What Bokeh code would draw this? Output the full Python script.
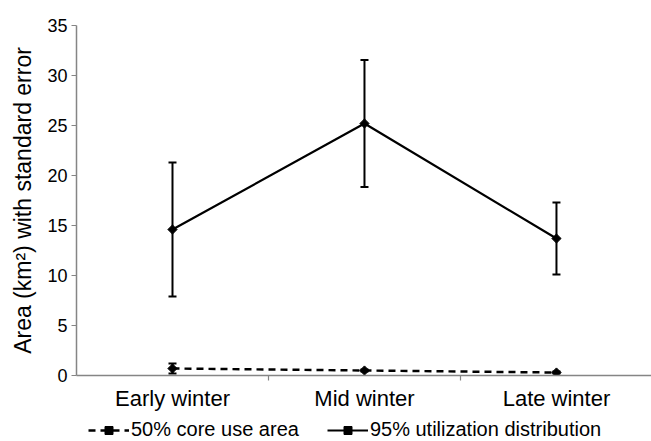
from bokeh.plotting import figure
from bokeh.models import (Range1d, FixedTicker, Whisker, ColumnDataSource, Legend,
                          LegendItem, TeeHead)
from bokeh.layouts import column
from bokeh.embed import file_html
from bokeh.resources import INLINE
import math

# ---- data ----
seasons = ["Early winter", "Mid winter", "Late winter"]
ud95_mean = [14.6, 25.2, 13.7]
ud95_se = [6.7, 6.35, 3.6]
core50_mean = [0.7, 0.5, 0.3]
core50_se = [0.5, 0.1, 0.1]
y_ticks = [0, 5, 10, 15, 20, 25, 30, 35]
legend_labels = ["50% core use area", "95% utilization distribution"]
y_label = "Area (km\u00b2) with standard error"

xpos = [i + 1 for i in range(len(seasons))]

FONT = "Liberation Sans"
AXIS_GREY = "#858585"

core_style = dict(line_color="black", line_width=2.5, line_dash="7 5")
ud_style = dict(line_color="black", line_width=2.2)
mark_style = dict(marker="square", size=6.5, angle=math.pi / 4,
                  fill_color="black", line_color="black")

p = figure(width=651, height=413, output_backend="svg", toolbar_location=None,
           x_range=Range1d(0.5, 3.495), y_range=Range1d(0, 35),
           min_border_left=76, min_border_right=0, min_border_top=25,
           min_border_bottom=30)
p.outline_line_color = None
p.xgrid.visible = False
p.ygrid.visible = False
p.background_fill_color = "white"
p.border_fill_color = "white"

ud_src = ColumnDataSource(dict(x=xpos, y=ud95_mean,
                               upper=[m + s for m, s in zip(ud95_mean, ud95_se)],
                               lower=[m - s for m, s in zip(ud95_mean, ud95_se)]))
core_src = ColumnDataSource(dict(x=xpos, y=core50_mean,
                                 upper=[m + s for m, s in zip(core50_mean, core50_se)],
                                 lower=[m - s for m, s in zip(core50_mean, core50_se)]))

for src in (ud_src, core_src):
    w = Whisker(source=src, base="x", upper="upper", lower="lower",
                line_color="black", line_width=2,
                upper_head=TeeHead(size=8, line_width=2, line_color="black"),
                lower_head=TeeHead(size=8, line_width=2, line_color="black"))
    p.add_layout(w)

p.line("x", "y", source=core_src, **core_style)
p.scatter("x", "y", source=core_src, **mark_style)
p.line("x", "y", source=ud_src, **ud_style)
p.scatter("x", "y", source=ud_src, **mark_style)

# ---- x axis ----
xa = p.xaxis[0]
xa.ticker = FixedTicker(ticks=xpos, minor_ticks=[1.5, 2.5])
xa.major_label_overrides = {x: s for x, s in zip(xpos, seasons)}
xa.major_tick_out = 0
xa.major_tick_in = 0
xa.minor_tick_out = 5
xa.minor_tick_in = 0
xa.minor_tick_line_color = AXIS_GREY
xa.minor_tick_line_width = 1.2
xa.axis_line_color = AXIS_GREY
xa.axis_line_width = 1.5
xa.major_label_text_font = FONT
xa.major_label_text_font_size = "22px"
xa.major_label_text_color = "black"
xa.major_label_standoff = 5

# ---- y axis ----
ya = p.yaxis[0]
ya.ticker = FixedTicker(ticks=y_ticks)
ya.major_tick_out = 5
ya.major_tick_in = 0
ya.minor_tick_out = 0
ya.minor_tick_in = 0
ya.major_tick_line_color = AXIS_GREY
ya.major_tick_line_width = 1.2
ya.axis_line_color = AXIS_GREY
ya.axis_line_width = 1.5
ya.major_label_text_font = FONT
ya.major_label_text_font_size = "18px"
ya.major_label_text_color = "black"
ya.major_label_standoff = 4
ya.axis_label = y_label
ya.axis_label_text_font = FONT
ya.axis_label_text_font_size = "23px"
ya.axis_label_text_font_style = "normal"
ya.axis_label_text_color = "black"
ya.axis_label_standoff = 8

# ---- legend strip (separate small figure below; data kept out of its view) ----
lg = figure(width=651, height=28, output_backend="svg", toolbar_location=None,
            x_range=Range1d(0, 1), y_range=Range1d(1000, 1001),
            x_axis_type=None, y_axis_type=None, min_border=0)
lg.outline_line_color = None
lg.xgrid.visible = False
lg.ygrid.visible = False
l1 = lg.line("x", "y", source=core_src, **core_style)
m1 = lg.scatter("x", "y", source=core_src, **mark_style)
l2 = lg.line("x", "y", source=ud_src, **ud_style)
m2 = lg.scatter("x", "y", source=ud_src, **mark_style)
legend = Legend(items=[LegendItem(label=legend_labels[0], renderers=[l1, m1]),
                       LegendItem(label=legend_labels[1], renderers=[l2, m2])],
                orientation="horizontal", location=(12, 0), padding=0, margin=0,
                spacing=28, glyph_width=41, glyph_height=20, label_standoff=2,
                label_text_font=FONT, label_text_font_size="20px",
                label_text_color="black", label_height=20,
                border_line_alpha=0, background_fill_alpha=0)
lg.add_layout(legend, "center")

layout = column(p, lg, spacing=0)
open("out.html", "w").write(file_html(layout, INLINE))
